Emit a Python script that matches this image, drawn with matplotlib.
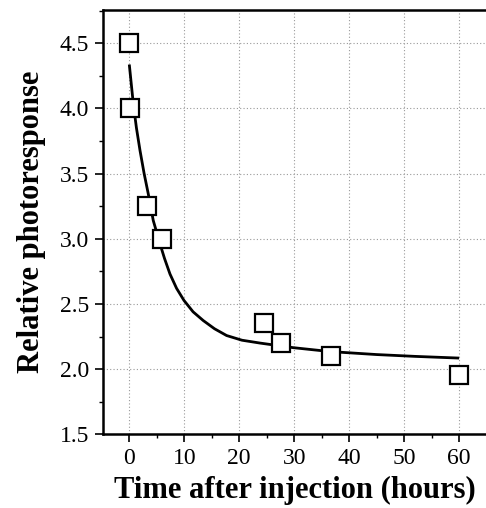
import matplotlib
matplotlib.use("Agg")
import matplotlib.pyplot as plt
from matplotlib.ticker import MultipleLocator

# Data
time_h = [0.0, 0.2, 3.3, 5.9, 24.5, 27.6, 36.6, 60.0]
response = [4.50, 4.00, 3.25, 3.00, 2.355, 2.20, 2.10, 1.955]

# Fitted curve
curve_t = [0.0, 0.73, 1.3, 1.95, 2.7, 3.45, 4.36, 5.58, 6.4, 7.4, 8.6, 9.95,
           11.6, 13.45, 15.5, 17.7, 20.5, 23.8, 29.8, 36.5, 45.0, 52.0, 60.0]
curve_y = [4.337, 4.035, 3.85, 3.677, 3.50, 3.345, 3.14, 2.962, 2.85, 2.73, 2.62, 2.527,
           2.44, 2.373, 2.31, 2.258, 2.222, 2.20, 2.165, 2.135, 2.112, 2.098, 2.085]

xticks = [0, 10, 20, 30, 40, 50, 60]
yticks = [1.5, 2.0, 2.5, 3.0, 3.5, 4.0, 4.5]

plt.rcParams['font.family'] = ['Liberation Serif', 'DejaVu Serif']

fig = plt.figure(figsize=(4.86, 5.08), dpi=100)
ax = fig.add_axes([0.2113, 0.145, 0.79, 0.835])

ax.plot(curve_t, curve_y, color='black', lw=2.0, zorder=3, solid_capstyle='butt')
ax.plot(time_h, response, linestyle='none', marker='s', markersize=13.5,
        markerfacecolor='white', markeredgecolor='black', markeredgewidth=1.6, zorder=4)

ax.set_xlim(-4.84, 65)
ax.set_ylim(1.5, 4.754)
ax.set_xticks(xticks)
ax.set_yticks(yticks)
ax.set_yticklabels([f"{v:.1f}" for v in yticks])
ax.xaxis.set_minor_locator(MultipleLocator(5))
ax.yaxis.set_minor_locator(MultipleLocator(0.25))

ax.grid(True, which='major', linestyle=(0, (1, 2)), color='#999999', lw=0.8)
ax.tick_params(which='major', direction='out', length=6, width=1.2, labelsize=17, pad=4)
ax.tick_params(which='minor', direction='out', length=3, width=1.0)

ax.spines['right'].set_visible(False)
for s in ('left', 'bottom', 'top'):
    ax.spines[s].set_linewidth(1.8)

ax.set_xlabel('Time after injection (hours)', fontsize=22, fontweight='bold', labelpad=5)
ax.set_ylabel('Relative photoresponse', fontsize=22, fontweight='bold', labelpad=10)

fig.savefig('out.png', dpi=100)
